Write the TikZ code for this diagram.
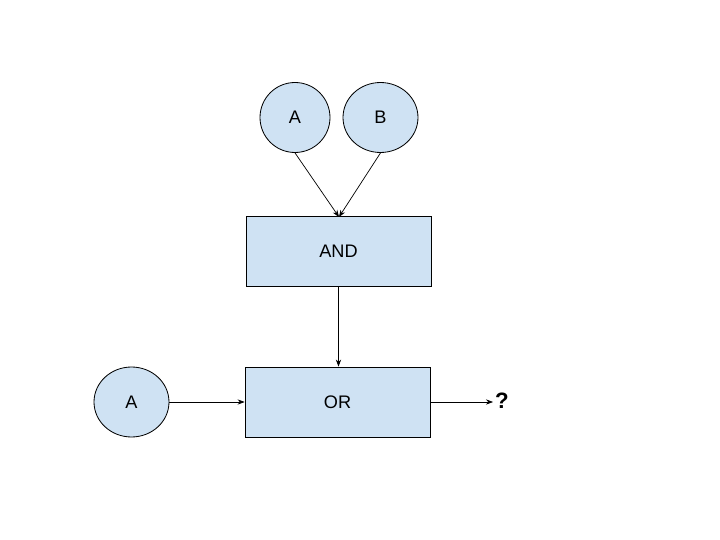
\documentclass[tikz,border=0pt]{standalone}
\usepackage{fontspec}
\setmainfont{Liberation Sans}
\usetikzlibrary{arrows.meta,shapes.geometric}
\definecolor{boxfill}{HTML}{CFE2F3}
\begin{document}
\begin{tikzpicture}[x=0.03cm,y=-0.03cm,
  every node/.style={font=\fontsize{15.5}{18}\selectfont},
  inbubble/.style={ellipse, draw=black, line width=0.7pt, fill=boxfill, inner sep=0pt},
  gatebox/.style={rectangle, draw=black, line width=0.7pt, fill=boxfill, minimum width=185*0.03cm, minimum height=70*0.03cm, inner sep=0pt},
  conn/.style={draw=black, line width=0.6pt, -{Stealth[length=6pt,width=4.5pt]}}]
\useasboundingbox (0,0) rectangle (720,540);
\node[inbubble, minimum width=70*0.03cm, minimum height=70*0.03cm] (a1) at (295,117.5) {A};
\node[inbubble, minimum width=75*0.03cm, minimum height=70*0.03cm] (b1) at (380.5,117.5) {B};
\node[gatebox] (and) at (338.5,251.5) {AND};
\node[gatebox] (or) at (337.5,402) {OR};
\node[inbubble, minimum width=75*0.03cm, minimum height=70*0.03cm] (a2) at (131.5,402) {A};
\node[font=\fontsize{19}{22}\selectfont\bfseries, inner sep=0pt] (q) at (502,401) {?};
\coordinate (andin) at (339,217);
\coordinate (qin) at (493,402);
\draw[conn] (a1.south) -- (andin);
\draw[conn] (b1.south) -- (andin);
\draw[conn] (and.south) -- (and.south |- or.north);
\draw[conn] (a2.east) -- (or.west);
\draw[conn] (or.east) -- (qin);
\end{tikzpicture}
\end{document}
